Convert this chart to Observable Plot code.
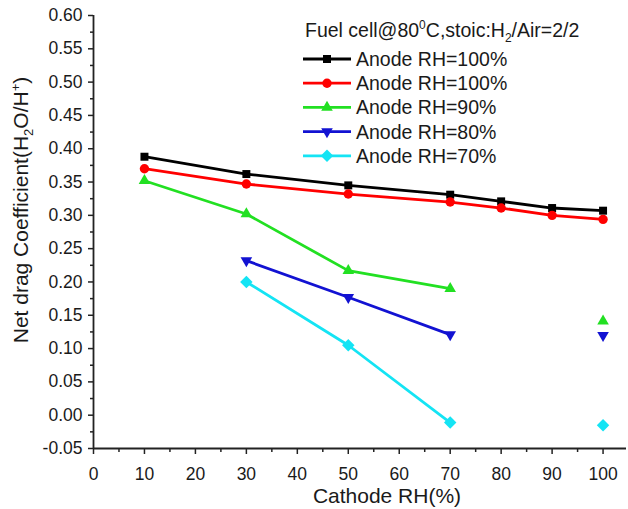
<!DOCTYPE html>
<html><head><meta charset="utf-8">
<script src="https://cdn.jsdelivr.net/npm/d3@7"></script>
<script src="https://cdn.jsdelivr.net/npm/@observablehq/plot@0.6"></script>
<style>
body{margin:0;background:#fff;}
#chart{position:relative;width:628px;height:509px;}
svg text{font-family:"Liberation Sans",Arial,Helvetica,sans-serif;}
</style></head><body><div id="chart"></div>
<script>
// ---- data ----
const cathodeRH = [10, 30, 50, 70, 80, 90, 100];
const anode100a = [0.388, 0.362, 0.345, 0.331, 0.321, 0.311, 0.307];
const anode100b = [0.370, 0.347, 0.332, 0.320, 0.311, 0.300, 0.294];
const anode90   = [0.352, 0.302, 0.217, 0.190, null, null, 0.141];
const anode80   = [null, 0.232, 0.177, 0.121, null, null, 0.120];
const anode70   = [null, 0.200, 0.105, -0.011, null, null, -0.015];
const seriesNames = ["Anode RH=100%", "Anode RH=100%", "Anode RH=90%", "Anode RH=80%", "Anode RH=70%"];
const seriesColors = ["#000000", "#ff0000", "#22e022", "#1212d2", "#14e4f4"];
const xTicks = [0, 10, 20, 30, 40, 50, 60, 70, 80, 90, 100];
const xMinorTicks = [5, 15, 25, 35, 45, 55, 65, 75, 85, 95];
const yTicks = [-0.05, 0.00, 0.05, 0.10, 0.15, 0.20, 0.25, 0.30, 0.35, 0.40, 0.45, 0.50, 0.55, 0.60];
const yMinorTicks = [-0.025, 0.025, 0.075, 0.125, 0.175, 0.225, 0.275, 0.325, 0.375, 0.425, 0.475, 0.525, 0.575];

const triangleDown = {
  draw(context, size) {
    const s3 = Math.sqrt(3);
    const y = -Math.sqrt(size / (s3 * 3));
    context.moveTo(0, -y * 2);
    context.lineTo(-s3 * y, y);
    context.lineTo(s3 * y, y);
    context.closePath();
  }
};
const seriesSymbols = ["square", "circle", "triangle", triangleDown, "diamond2"];
const seriesR = [4.5, 4.7, 4.3, 4.3, 5.6];
const seriesValues = [anode100a, anode100b, anode90, anode80, anode70];

const rows = [];
seriesValues.forEach((vals, si) => {
  cathodeRH.forEach((x, i) => rows.push({series: si, x, y: vals[i]}));
});

const axisColor = "#222";
const marks = [];
seriesValues.forEach((vals, si) => {
  const data = rows.filter(d => d.series === si);
  marks.push(Plot.line(data, {x: "x", y: "y", stroke: seriesColors[si], strokeWidth: 2.8}));
});
seriesValues.forEach((vals, si) => {
  const data = rows.filter(d => d.series === si);
  marks.push(Plot.dot(data, {x: "x", y: "y", symbol: seriesSymbols[si], r: seriesR[si], fill: seriesColors[si], stroke: "none"}));
});

const chart = Plot.plot({
  width: 628,
  height: 509,
  marginLeft: 93,
  marginRight: 2,
  marginTop: 15,
  marginBottom: 61,
  style: {fontFamily: "Liberation Sans, Arial, sans-serif", background: "#fff"},
  x: {domain: [0, 104.6]},
  y: {domain: [-0.05, 0.60]},
  marks: [
    Plot.axisX(xTicks, {tickSize: 6, tickPadding: 13, fontSize: 17.5, label: null, stroke: axisColor, strokeWidth: 1.5, fill: "#1a1a1a"}),
    Plot.axisX(xMinorTicks, {tickSize: 4, text: null, label: null, stroke: axisColor, strokeWidth: 1.5}),
    Plot.axisY(yTicks, {tickSize: 5, tickPadding: 6, fontSize: 17.5, label: null, tickFormat: d => d.toFixed(2), stroke: axisColor, strokeWidth: 1.5, fill: "#1a1a1a"}),
    Plot.axisY(yMinorTicks, {tickSize: 3, text: null, label: null, stroke: axisColor, strokeWidth: 1.5}),
    Plot.ruleY([-0.05], {stroke: axisColor, strokeWidth: 1.8}),
    Plot.ruleX([0], {y1: -0.05, y2: 0.60, stroke: axisColor, strokeWidth: 1.8}),
    ...marks
  ]
});
document.getElementById("chart").appendChild(chart);

// ---- labels & legend ----
const svg = d3.select(chart);
// x label
svg.append("text").attr("x", 387).attr("y", 503).attr("text-anchor", "middle")
  .attr("font-size", 21).attr("fill", "#1a1a1a").text("Cathode RH(%)");
// y label
const yl = svg.append("text").attr("transform", "translate(28,210) rotate(-90)")
  .attr("text-anchor", "middle").attr("font-size", 21).attr("fill", "#1a1a1a");
yl.append("tspan").text("Net drag Coefficient(H");
yl.append("tspan").attr("font-size", 13).attr("dy", 5).text("2");
yl.append("tspan").attr("dy", -5).text("O/H");
yl.append("tspan").attr("font-size", 13).attr("dy", -8).text("+");
yl.append("tspan").attr("dy", 8).text(")");

// legend title
const lt = svg.append("text").attr("x", 305).attr("y", 37).attr("text-anchor", "start")
  .attr("font-size", 19.5).attr("fill", "#1a1a1a");
lt.append("tspan").text("Fuel cell@80");
lt.append("tspan").attr("font-size", 12).attr("dy", -8).text("0");
lt.append("tspan").attr("dy", 8).text("C,stoic:H");
lt.append("tspan").attr("font-size", 12).attr("dy", 5).text("2");
lt.append("tspan").attr("dy", -5).text("/Air=2/2");

seriesNames.forEach((name, i) => {
  const cy = 59 + i * 24.2;
  const g = svg.append("g");
  g.append("line").attr("x1", 303).attr("x2", 351).attr("y1", cy).attr("y2", cy)
    .attr("stroke", seriesColors[i]).attr("stroke-width", 2.8);
  const sym = typeof seriesSymbols[i] === "string"
    ? {square: d3.symbolSquare, circle: d3.symbolCircle, triangle: d3.symbolTriangle, diamond2: d3.symbolDiamond2}[seriesSymbols[i]]
    : seriesSymbols[i];
  g.append("path").attr("transform", `translate(327,${cy})`)
    .attr("d", d3.symbol(sym, Math.PI * seriesR[i] * seriesR[i])())
    .attr("fill", seriesColors[i]);
  g.append("text").attr("x", 356).attr("y", cy + 7).attr("text-anchor", "start")
    .attr("font-size", 19.5).attr("fill", "#1a1a1a").text(name);
});
</script>
</body></html>
